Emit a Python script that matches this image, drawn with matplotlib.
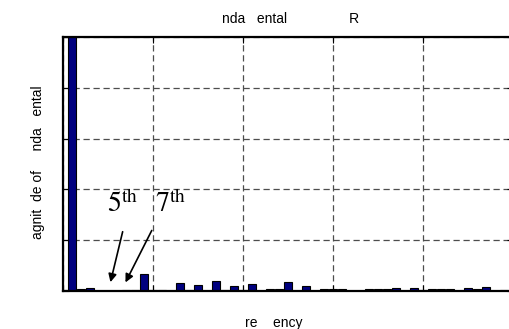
import numpy as np
import matplotlib.pyplot as plt

plt.rcParams['font.family'] = ['Liberation Sans', 'DejaVu Sans']
plt.rcParams['mathtext.fontset'] = 'stix'

# harmonic spectrum, % of fundamental
orders = np.arange(0, 50)
magnitude = [0.4, 100, 0.8, 1.2, 0, 0, 0, 0.4, 0.4, 6.7,
             0.4, 0.4, 0, 3.2, 0.4, 2.4, 0, 4.0, 0.4, 2.0,
             0.4, 2.8, 0, 0.8, 0.8, 3.5, 0, 2.0, 0, 0.6,
             0.6, 0.8, 0, 0, 0.6, 0.6, 0.6, 1.2, 0, 1.0,
             0.4, 0.6, 0.6, 0.8, 0, 1.0, 0.6, 1.6, 0, 0.4]
x_ticks = [0, 10, 20, 30, 40, 50]
y_ticks = [0, 20, 40, 60, 80, 100]

W, H = 509, 329
fig = plt.figure(figsize=(W / 100, H / 100), dpi=100)
ax = fig.add_axes([63 / W, 38 / H, 450 / W, 254 / H])

ax.bar(orders, magnitude, width=0.8, color='#00007f', edgecolor='black', linewidth=0.8, zorder=3)

ax.set_xlim(0, 50)
ax.set_ylim(0, 100)
ax.set_xticks(x_ticks)
ax.set_yticks(y_ticks)
ax.set_xticklabels([])
ax.set_yticklabels([])
ax.tick_params(direction='in', length=4, width=0.8, top=True, right=True)
ax.grid(True, color='0.3', linestyle=(0, (5, 3)), linewidth=0.9, zorder=0)
for s in ax.spines.values():
    s.set_linewidth(1.6)
    s.set_zorder(4)

# labels (glyphs missing in the original are left as gaps)
fig.text(222 / W, 1 - 23 / H, 'nda   ental                R', fontsize=10, ha='left', va='baseline')
fig.text(245 / W, 1 - 327 / H, 're    ency', fontsize=10, ha='left', va='baseline')
fig.text(38 / W, 1 - 162 / H, 'agnit  de of     nda   ental', fontsize=10, rotation=90,
         ha='center', va='center')

# harmonic annotations
ax.text(4.9, 31.0, r'$5^{\mathrm{th}}$', fontsize=20, ha='left', va='baseline')
ax.text(10.2, 31.0, r'$7^{\mathrm{th}}$', fontsize=20, ha='left', va='baseline')
ax.annotate('', xy=(5.2, 2.4), xytext=(6.7, 24.4),
            arrowprops=dict(arrowstyle='-|>', color='black', lw=1.2, mutation_scale=12))
ax.annotate('', xy=(6.8, 2.4), xytext=(10.0, 24.8),
            arrowprops=dict(arrowstyle='-|>', color='black', lw=1.2, mutation_scale=12))

fig.savefig('out.png', dpi=100)
